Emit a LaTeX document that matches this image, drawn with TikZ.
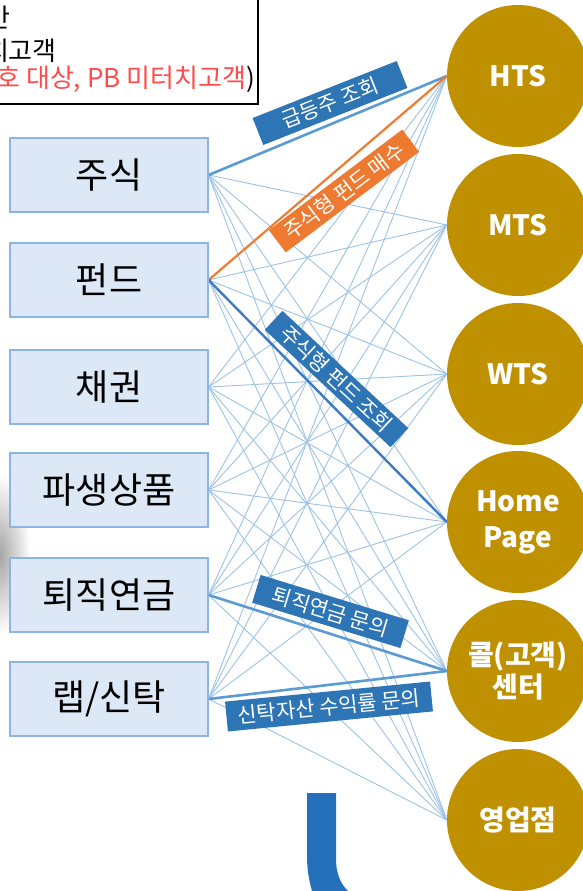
\documentclass[tikz,border=0pt]{standalone}
\usepackage{fontspec}
\setmainfont{Noto Sans CJK KR}
\usetikzlibrary{backgrounds}
\definecolor{boxfill}{HTML}{DCE8F6}
\definecolor{boxline}{HTML}{8DB4E2}
\definecolor{gold}{HTML}{BF9000}
\definecolor{thinblue}{HTML}{9DC3E6}
\definecolor{hlblue}{HTML}{5B9BD5}
\definecolor{hlblue2}{HTML}{3D7CC4}
\definecolor{hlorange}{HTML}{ED7D31}
\definecolor{lblblue}{HTML}{2E75B6}
\definecolor{lblorange}{HTML}{EE7A31}
\definecolor{swooshblue}{HTML}{2470BA}
\definecolor{notered}{HTML}{FF4B4B}
\tikzset{
  prodbox/.style={draw=boxline, fill=boxfill, line width=1.2pt, minimum width=198pt, minimum height=74pt, inner sep=0pt, font=\fontsize{36}{40}\selectfont},
  chan/.style={circle, fill=gold, minimum size=142pt, inner sep=0pt, text=white, align=center, font=\bfseries\fontsize{28}{36}\selectfont},
  thinline/.style={draw=thinblue, line width=0.9pt},
  hlline/.style={draw=hlblue, line width=2.6pt},
  hlline2/.style={draw=hlblue2, line width=2.4pt},
  orline/.style={draw=hlorange, line width=2.2pt},
  tag/.style={fill=lblblue, text=white, inner sep=0pt, font=\fontsize{21}{24}\selectfont},
  notetext/.style={anchor=base east, inner sep=0pt, font=\fontsize{26}{28}\selectfont}
}
\begin{document}
\begin{tikzpicture}[x=1pt,y=-1pt]
\useasboundingbox (0,0) rectangle (583,891);
\clip (0,0) rectangle (583,891);

% note box (cropped)
\draw[line width=1.5pt] (-10,-10) rectangle (258,104);
\node[notetext] (n1) at (11,28) {반};
\node[notetext] (n2) at (57,60) {치고객};
\node[notetext] (n3) at (255,87) {\textcolor{notered}{호 대상, PB 미터치고객})};

% product boxes
\node[prodbox] (b1) at (109,175) {주식};
\node[prodbox] (b2) at (109,280) {펀드};
\node[prodbox] (b3) at (109,387) {채권};
\node[prodbox] (b4) at (109,490) {파생상품};
\node[prodbox] (b5) at (109,595) {퇴직연금};
\node[prodbox] (b6) at (109,699) {랩/신탁};

% channel circles
\node[chan] (c1) at (518,76) {HTS};
\node[chan] (c2) at (518,225) {MTS};
\node[chan] (c3) at (518,374) {WTS};
\node[chan] (c4) at (518,522) {Home\\[0pt]Page};
\node[chan] (c5) at (518,671) {콜(고객)\\[-4pt]센터};
\node[chan] (c6) at (518,820) {영업점};

\begin{scope}[on background layer]
\fill[white] (0,0) rectangle (583,891);
% soft shadow on the left edge
\shade[inner color=black!35, outer color=white] (0,555) ellipse (30 and 80);
% swoosh
\fill[swooshblue] (307,793) -- (336,793) -- (336,862) .. controls (337,876) and (341,884) .. (348,891) -- (312,891) .. controls (309,880) and (307,870) .. (307,855) -- cycle;
% connectors
\foreach \a in {b1,b2,b3,b4,b5,b6}
  \foreach \b in {c1,c2,c3,c4,c5,c6}
    \draw[thinline] (\a.east) -- (\b.west);
\draw[hlline] (b1.east) -- (c1.west);
\draw[orline] (b2.east) -- (c1.west);
\draw[hlline2] (b2.east) -- (c4.west);
\draw[hlline] (b5.east) -- (c5.west);
\draw[hlline] (b6.east) -- (c5.west);
\end{scope}

% tags
\node[tag, minimum width=155pt, minimum height=29pt, rotate=21.6] (t1) at (330,103) {급등주 조회};
\node[tag, fill=lblorange, minimum width=167pt, minimum height=28pt, rotate=37] (t2) at (344,191) {주식형 펀드 매수};
\node[tag, minimum width=172pt, minimum height=26pt, rotate=-43] (t3) at (336.5,379) {주식형 펀드 조회};
\node[tag, minimum width=155pt, minimum height=29pt, rotate=-17] (t4) at (330.5,611.5) {퇴직연금 문의};
\node[tag, minimum width=206pt, minimum height=30pt, rotate=5.6] (t5) at (329,706.5) {신탁자산 수익률 문의};
\end{tikzpicture}
\end{document}
